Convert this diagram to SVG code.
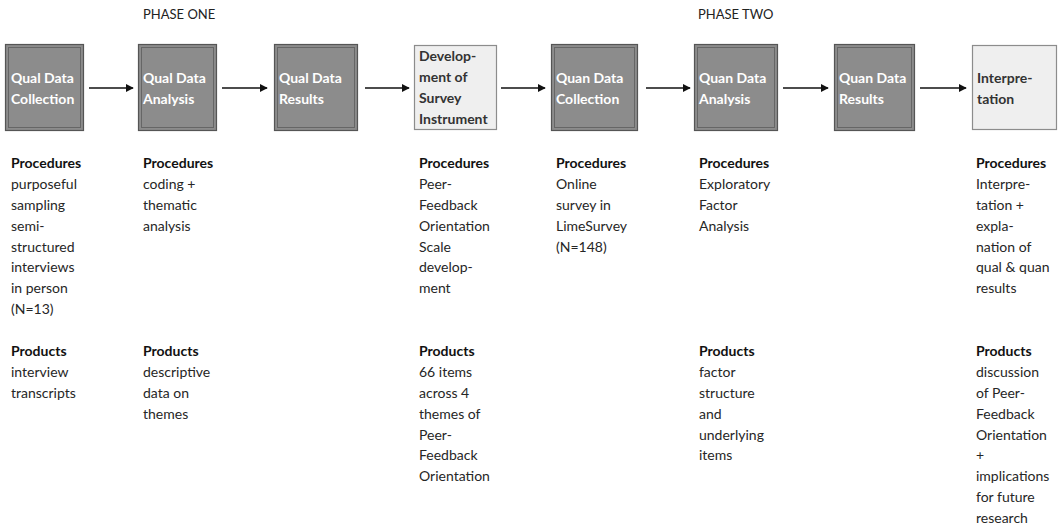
<svg xmlns="http://www.w3.org/2000/svg" width="1059" height="528" viewBox="0 0 1059 528">
<style>
text{font-family:Lato,"Liberation Sans",sans-serif;font-size:14px}
.dark rect.o{fill:#8c8c8c;stroke:#555;stroke-width:1.2}
.dark rect.i{fill:none;stroke:#666;stroke-width:1}
.dark text{fill:#fff;font-weight:bold}
.light rect{fill:#efefef;stroke:#8c8c8c;stroke-width:1.2}
.light text{fill:#333;font-weight:bold}
.h{font-weight:bold;fill:#111}
.b{fill:#262626}
.ph{fill:#222;font-size:13px}
.conn line{stroke:#111;stroke-width:1.3;marker-end:url(#ah)}
</style>
<defs>
<marker id="ah" viewBox="0 0 10 10" refX="9" refY="5" markerWidth="8" markerHeight="8" markerUnits="userSpaceOnUse" orient="auto">
<path d="M0,0 L10,5 L0,10 z" fill="#111"/>
</marker>
</defs>
<rect width="1059" height="528" fill="#fff"/>
<text class="ph" x="143" y="19">PHASE ONE</text>
<text class="ph" x="698" y="19">PHASE TWO</text>

<g id="n1" class="dark">
<rect class="o" x="5.5" y="44.5" width="78" height="86"/>
<rect class="i" x="8.5" y="47.5" width="72" height="80"/>
<text x="11" y="83">Qual Data</text><text x="11" y="104">Collection</text>
</g>
<g id="n2" class="dark">
<rect class="o" x="138.5" y="44.5" width="78" height="86"/>
<rect class="i" x="141.5" y="47.5" width="72" height="80"/>
<text x="143" y="83">Qual Data</text><text x="143" y="104">Analysis</text>
</g>
<g id="n3" class="dark">
<rect class="o" x="274.5" y="44.5" width="83" height="86"/>
<rect class="i" x="277.5" y="47.5" width="77" height="80"/>
<text x="279" y="83">Qual Data</text><text x="279" y="104">Results</text>
</g>
<g id="n4" class="light">
<rect x="414.5" y="45.5" width="82" height="84"/>
<text x="419" y="61">Develop-</text><text x="419" y="82">ment of</text><text x="419" y="103">Survey</text><text x="419" y="124">Instrument</text>
</g>
<g id="n5" class="dark">
<rect class="o" x="551.5" y="44.5" width="86" height="86"/>
<rect class="i" x="554.5" y="47.5" width="80" height="80"/>
<text x="556" y="83">Quan Data</text><text x="556" y="104">Collection</text>
</g>
<g id="n6" class="dark">
<rect class="o" x="694.5" y="44.5" width="83" height="86"/>
<rect class="i" x="697.5" y="47.5" width="77" height="80"/>
<text x="699" y="83">Quan Data</text><text x="699" y="104">Analysis</text>
</g>
<g id="n7" class="dark">
<rect class="o" x="834.5" y="44.5" width="80" height="86"/>
<rect class="i" x="837.5" y="47.5" width="74" height="80"/>
<text x="839" y="83">Quan Data</text><text x="839" y="104">Results</text>
</g>
<g id="n8" class="light">
<rect x="972.5" y="45.5" width="84" height="84"/>
<text x="977" y="83">Interpre-</text><text x="977" y="104">tation</text>
</g>

<g class="conn">
<line x1="89" y1="88" x2="133" y2="88"/>
<line x1="222" y1="88" x2="267" y2="88"/>
<line x1="365" y1="88" x2="409" y2="88"/>
<line x1="501" y1="88" x2="545" y2="88"/>
<line x1="646" y1="88" x2="690" y2="88"/>
<line x1="783" y1="88" x2="828" y2="88"/>
<line x1="920" y1="88" x2="966" y2="88"/>
</g>

<g id="c1">
<text class="h" x="11" y="168">Procedures</text>
<text class="b" x="11" y="189">purposeful</text>
<text class="b" x="11" y="210">sampling</text>
<text class="b" x="11" y="231">semi-</text>
<text class="b" x="11" y="251.5">structured</text>
<text class="b" x="11" y="272">interviews</text>
<text class="b" x="11" y="293">in person</text>
<text class="b" x="11" y="314">(N=13)</text>
<text class="h" x="11" y="356">Products</text>
<text class="b" x="11" y="377">interview</text>
<text class="b" x="11" y="398">transcripts</text>
</g>
<g id="c2">
<text class="h" x="143" y="168">Procedures</text>
<text class="b" x="143" y="189">coding +</text>
<text class="b" x="143" y="210">thematic</text>
<text class="b" x="143" y="231">analysis</text>
<text class="h" x="143" y="356">Products</text>
<text class="b" x="143" y="377">descriptive</text>
<text class="b" x="143" y="398">data on</text>
<text class="b" x="143" y="418.5">themes</text>
</g>
<g id="c4">
<text class="h" x="419" y="168">Procedures</text>
<text class="b" x="419" y="189">Peer-</text>
<text class="b" x="419" y="210">Feedback</text>
<text class="b" x="419" y="231">Orientation</text>
<text class="b" x="419" y="251.5">Scale</text>
<text class="b" x="419" y="272">develop-</text>
<text class="b" x="419" y="293">ment</text>
<text class="h" x="419" y="356">Products</text>
<text class="b" x="419" y="377">66 items</text>
<text class="b" x="419" y="398">across 4</text>
<text class="b" x="419" y="418.5">themes of</text>
<text class="b" x="419" y="439.5">Peer-</text>
<text class="b" x="419" y="460">Feedback</text>
<text class="b" x="419" y="481">Orientation</text>
</g>
<g id="c5">
<text class="h" x="556" y="168">Procedures</text>
<text class="b" x="556" y="189">Online</text>
<text class="b" x="556" y="210">survey in</text>
<text class="b" x="556" y="231">LimeSurvey</text>
<text class="b" x="556" y="251.5">(N=148)</text>
</g>
<g id="c6">
<text class="h" x="699" y="168">Procedures</text>
<text class="b" x="699" y="189">Exploratory</text>
<text class="b" x="699" y="210">Factor</text>
<text class="b" x="699" y="231">Analysis</text>
<text class="h" x="699" y="356">Products</text>
<text class="b" x="699" y="377">factor</text>
<text class="b" x="699" y="398">structure</text>
<text class="b" x="699" y="418.5">and</text>
<text class="b" x="699" y="439.5">underlying</text>
<text class="b" x="699" y="460">items</text>
</g>
<g id="c8">
<text class="h" x="976" y="168">Procedures</text>
<text class="b" x="976" y="189">Interpre-</text>
<text class="b" x="976" y="210">tation +</text>
<text class="b" x="976" y="231">expla-</text>
<text class="b" x="976" y="251.5">nation of</text>
<text class="b" x="976" y="272">qual &amp; quan</text>
<text class="b" x="976" y="293">results</text>
<text class="h" x="976" y="356">Products</text>
<text class="b" x="976" y="377">discussion</text>
<text class="b" x="976" y="398">of Peer-</text>
<text class="b" x="976" y="418.5">Feedback</text>
<text class="b" x="976" y="439.5">Orientation</text>
<text class="b" x="976" y="460">+</text>
<text class="b" x="976" y="481">implications</text>
<text class="b" x="976" y="502">for future</text>
<text class="b" x="976" y="523">research</text>
</g>
</svg>
